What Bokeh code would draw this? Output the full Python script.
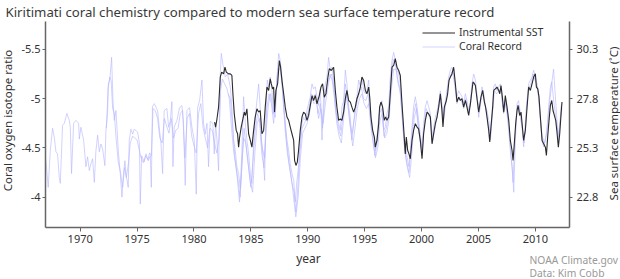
import math
from bokeh.plotting import figure
from bokeh.models import Range1d, LinearAxis, FixedTicker, Label, Legend, LegendItem, ColumnDataSource
from bokeh.embed import file_html
from bokeh.resources import INLINE

# ---------------- data ----------------
title_text = "Kiritimati coral chemistry compared to modern sea surface temperature record"
left_title = "Coral oxygen isotope ratio"
right_title = "Sea surface temperature (\u02daC)"
x_title = "year"
credit_1 = "NOAA Climate.gov"
credit_2 = "Data: Kim Cobb"
legend_labels = ["Instrumental SST", "Coral Record"]

x_ticks = [1970, 1975, 1980, 1985, 1990, 1995, 2000, 2005, 2010]
d18o_ticks = [-5.5, -5.0, -4.5, -4.0]
d18o_tick_labels = ["-5.5", "-5", "-4.5", "-4"]
sst_ticks = [22.8, 25.3, 27.8, 30.3]

# axis extents (data units)
year_min, year_max = 1966.95, 2013.0
d18o_bottom, d18o_top = -3.692, -5.784
sst_bottom, sst_top = 21.26, 31.72

coral_a_year = [
    1966.96, 1966.99, 1967.19, 1967.37, 1967.57, 1967.72, 1967.87, 1968.01, 1968.16, 1968.25,
    1968.45, 1968.60, 1968.83, 1969.04, 1969.13, 1969.24, 1969.42, 1969.62, 1969.86, 1969.92,
    1970.06, 1970.30, 1970.50, 1970.65, 1970.80, 1970.94, 1971.09, 1971.24, 1971.38, 1971.53,
    1971.68, 1971.82, 1971.97, 1972.17, 1972.26, 1972.41, 1972.47, 1972.61, 1972.76, 1972.88,
    1973.00, 1973.14, 1973.23, 1973.35, 1973.52, 1973.67, 1973.81, 1973.93, 1974.02, 1974.22,
    1974.31, 1974.46, 1974.61, 1974.75, 1975.05, 1975.20, 1975.28, 1975.40, 1975.63, 1975.78,
    1975.98, 1976.16, 1976.25, 1976.35, 1976.51, 1976.68, 1976.80, 1976.97, 1977.10, 1977.24,
    1977.38, 1977.62, 1977.77, 1977.92, 1978.06, 1978.15, 1978.26, 1978.50, 1978.73, 1978.94,
    1979.08, 1979.23, 1979.38, 1979.61, 1979.82, 1980.02, 1980.20, 1980.32, 1980.49, 1980.70,
    1980.84, 1980.99, 1981.14, 1981.28, 1981.43, 1981.66, 1981.78, 1981.90, 1982.02, 1982.16,
    1982.31, 1982.40, 1982.54, 1982.75, 1982.95, 1983.19, 1983.33, 1983.48, 1983.63, 1983.77,
    1983.92, 1984.07, 1984.21, 1984.36, 1984.51, 1984.65, 1984.80, 1984.95, 1985.09, 1985.24,
    1985.38, 1985.53, 1985.68, 1985.82, 1985.91, 1986.03, 1986.21, 1986.32, 1986.44, 1986.56,
    1986.70, 1986.85, 1987.00, 1987.14, 1987.29, 1987.44, 1987.58, 1987.73, 1987.88, 1988.02,
    1988.17, 1988.32, 1988.46, 1988.61, 1988.76, 1988.90, 1989.05, 1989.19, 1989.34, 1989.49,
    1989.63, 1989.78, 1989.93, 1990.07, 1990.22, 1990.37, 1990.51, 1990.66, 1990.81, 1990.95,
    1991.10, 1991.25, 1991.39, 1991.54, 1991.69, 1991.83, 1991.98, 1992.12, 1992.27, 1992.42,
    1992.56, 1992.71, 1992.86, 1993.00, 1993.15, 1993.30, 1993.44, 1993.59, 1993.74, 1993.88,
    1994.03, 1994.18, 1994.32, 1994.47, 1994.62, 1994.76, 1994.91, 1995.06, 1995.20, 1995.35,
    1995.49, 1995.64, 1995.79, 1995.93, 1996.08, 1996.23, 1996.37, 1996.52, 1996.67, 1996.81,
    1996.96, 1997.11, 1997.25, 1997.40, 1997.55, 1997.69, 1997.84, 1997.99, 1998.13, 1998.28,
    1998.42, 1998.57, 1998.72, 1998.89, 1999.01, 1999.16, 1999.30, 1999.45, 1999.60, 1999.74,
    1999.89, 2000.04, 2000.18, 2000.33, 2000.48, 2000.62, 2000.77, 2000.92, 2001.06, 2001.21,
    2001.36, 2001.50, 2001.65, 2001.79, 2001.94, 2002.09, 2002.23, 2002.38, 2002.53, 2002.67,
    2002.82, 2002.97, 2003.11, 2003.26, 2003.41, 2003.55, 2003.70, 2003.85, 2003.99, 2004.14,
    2004.29, 2004.43, 2004.58, 2004.73, 2004.87, 2005.02, 2005.17, 2005.31, 2005.46, 2005.60,
    2005.75, 2005.90, 2006.04, 2006.19, 2006.34, 2006.48, 2006.63, 2006.78, 2006.92, 2007.07,
    2007.22, 2007.36, 2007.51, 2007.66, 2007.80, 2007.95, 2008.04, 2008.15, 2008.27, 2008.39,
    2008.53, 2008.68, 2008.83, 2008.97, 2009.12, 2009.27, 2009.41, 2009.56, 2009.71, 2009.85,
    2010.00, 2010.15, 2010.29, 2010.44, 2010.59, 2010.73, 2010.88, 2011.03, 2011.17, 2011.32,
    2011.44, 2011.55, 2011.67, 2011.79, 2011.90, 2012.02, 2012.14, 2012.26, 2012.34,
]
coral_a_d18o = [
    -4.39, -4.36, -4.10, -4.47, -4.70, -4.61, -4.46, -4.44, -4.20, -4.14,
    -4.73, -4.75, -4.85, -4.78, -4.71, -4.24, -4.75, -4.78, -4.75, -4.59,
    -4.71, -4.58, -4.31, -4.41, -4.27, -4.34, -4.39, -4.15, -4.47, -4.63,
    -4.46, -4.54, -4.49, -4.32, -4.68, -4.86, -5.15, -5.20, -5.42, -4.98,
    -4.78, -4.88, -4.71, -4.47, -4.24, -4.00, -4.24, -4.37, -4.24, -4.10,
    -4.58, -4.69, -4.64, -4.69, -4.66, -4.55, -3.93, -4.42, -4.36, -4.44,
    -4.37, -4.42, -4.10, -4.92, -4.95, -4.91, -4.88, -4.68, -4.55, -4.24,
    -4.88, -4.90, -4.71, -4.78, -4.97, -4.31, -4.71, -4.78, -4.91, -4.93,
    -4.75, -4.12, -4.88, -4.91, -4.71, -4.58, -4.03, -4.91, -4.98, -5.19,
    -4.75, -4.64, -4.75, -4.31, -4.77, -4.75, -4.44, -4.75, -4.58, -4.27,
    -5.25, -5.46, -5.35, -5.22, -5.25, -5.12, -4.91, -4.58, -4.47, -4.31,
    -4.24, -4.09, -4.47, -5.02, -4.75, -4.58, -4.44, -4.24, -4.14, -4.54,
    -4.81, -4.98, -5.15, -4.91, -4.58, -4.47, -4.17, -4.85, -5.19, -5.12,
    -5.22, -5.08, -4.85, -4.81, -5.19, -5.46, -5.39, -5.22, -4.92, -4.75,
    -4.58, -4.47, -4.34, -4.24, -4.17, -3.95, -4.17, -4.31, -4.58, -4.75,
    -4.81, -4.78, -4.88, -4.95, -5.02, -5.15, -5.10, -5.12, -5.02, -4.93,
    -5.10, -4.58, -5.02, -5.15, -5.22, -5.42, -5.29, -5.32, -5.19, -4.92,
    -4.81, -4.75, -4.68, -4.92, -4.98, -5.29, -5.15, -4.92, -4.81, -4.58,
    -4.75, -4.92, -5.02, -5.19, -5.12, -5.22, -5.08, -5.05, -5.08, -5.19,
    -4.92, -4.75, -4.61, -4.47, -4.61, -4.81, -4.92, -4.98, -4.68, -4.71,
    -4.85, -4.92, -5.22, -5.39, -5.47, -5.39, -5.29, -5.25, -5.15, -4.92,
    -4.64, -4.54, -4.41, -4.31, -4.47, -4.71, -4.92, -5.02, -4.92, -4.78,
    -4.64, -4.51, -4.75, -4.92, -4.98, -4.92, -4.85, -4.61, -4.71, -4.81,
    -4.88, -4.95, -5.08, -4.95, -4.81, -4.98, -5.08, -5.22, -5.29, -5.32,
    -5.25, -5.12, -5.02, -5.08, -5.05, -5.02, -4.95, -5.05, -4.98, -4.88,
    -4.98, -5.15, -5.25, -5.19, -5.05, -4.81, -4.95, -5.12, -5.05, -4.92,
    -4.88, -4.78, -4.64, -4.85, -5.12, -5.15, -5.08, -5.12, -5.15, -4.98,
    -4.88, -4.98, -4.88, -4.71, -4.47, -4.31, -4.15, -4.47, -4.71, -4.95,
    -4.98, -4.81, -4.71, -4.51, -4.68, -4.98, -5.15, -5.19, -5.22, -5.29,
    -5.22, -5.15, -5.05, -4.78, -4.58, -4.51, -4.58, -4.71, -4.92, -5.12,
    -5.17, -5.05, -4.92, -4.81, -4.71, -4.58, -4.71, -4.92, -4.95,
]

coral_b_year = [
    1972.30, 1972.45, 1972.60, 1972.72, 1972.85, 1973.00, 1973.15, 1973.35, 1973.55, 1973.72,
    1973.90, 1974.05, 1974.25, 1974.40, 1974.60, 1974.80, 1975.00, 1975.15, 1975.35, 1975.55,
    1975.75, 1975.95, 1976.10, 1976.25, 1976.40, 1976.60, 1976.80, 1977.00, 1977.20, 1977.40,
    1977.60, 1977.80, 1978.00, 1978.20, 1978.40, 1978.60, 1978.80, 1979.00, 1979.20, 1979.40,
    1979.60, 1979.80, 1980.00, 1980.20, 1980.40, 1980.60, 1980.80, 1981.00, 1981.20, 1981.40,
    1981.60, 1981.80, 1982.00, 1982.20, 1982.35, 1982.50, 1982.70, 1982.90, 1983.10, 1983.30,
    1983.50, 1983.70, 1983.90, 1984.05, 1984.20, 1984.40, 1984.60, 1984.80, 1985.00, 1985.20,
    1985.40, 1985.60, 1985.80, 1986.00, 1986.20, 1986.40, 1986.60, 1986.80, 1987.00, 1987.20,
    1987.40, 1987.60, 1987.80, 1988.00, 1988.20, 1988.40, 1988.60, 1988.80, 1988.95, 1989.10,
    1989.30, 1989.50, 1989.70, 1989.90, 1990.10, 1990.30, 1990.50, 1990.70, 1990.90, 1991.10,
    1991.30, 1991.50, 1991.70, 1991.90, 1992.10, 1992.30, 1992.50, 1992.70, 1992.90, 1993.10,
    1993.30, 1993.50, 1993.70, 1993.90, 1994.10, 1994.30, 1994.50, 1994.70, 1994.90, 1995.10,
    1995.30, 1995.50, 1995.70, 1995.90, 1996.10, 1996.30, 1996.50, 1996.70, 1996.90, 1997.10,
    1997.30, 1997.50, 1997.70, 1997.90, 1998.10, 1998.30, 1998.50, 1998.70, 1998.90, 1999.10,
    1999.30, 1999.50, 1999.70, 1999.90, 2000.05, 2000.20, 2000.40, 2000.60, 2000.80, 2000.95,
    2001.10, 2001.30, 2001.50, 2001.70, 2001.90, 2002.10, 2002.30, 2002.50, 2002.70, 2002.90,
    2003.10, 2003.30, 2003.50, 2003.70, 2003.90, 2004.10, 2004.30, 2004.50, 2004.70, 2004.90,
    2005.10, 2005.30, 2005.50, 2005.70, 2005.90, 2006.05, 2006.20, 2006.40, 2006.60, 2006.80,
    2007.00, 2007.20, 2007.40, 2007.60, 2007.80, 2008.00, 2008.10, 2008.25, 2008.40, 2008.60,
    2008.80, 2009.00, 2009.20, 2009.40, 2009.60, 2009.80, 2010.00, 2010.20, 2010.40, 2010.60,
    2010.80, 2011.00, 2011.20, 2011.40, 2011.60, 2011.80, 2012.00, 2012.20, 2012.34,
]
coral_b_d18o = [
    -4.70, -5.10, -5.22, -5.18, -4.90, -4.85, -4.60, -4.35, -4.25, -4.10,
    -4.30, -4.20, -4.35, -4.55, -4.62, -4.60, -4.58, -4.50, -4.40, -4.35,
    -4.42, -4.38, -4.45, -4.42, -4.90, -4.88, -4.80, -4.60, -4.55, -4.80,
    -4.72, -4.65, -4.80, -4.60, -4.68, -4.70, -4.85, -4.88, -4.40, -4.80,
    -4.85, -4.62, -4.52, -4.45, -4.85, -4.95, -4.70, -4.60, -4.50, -4.70,
    -4.68, -4.55, -4.45, -4.60, -5.10, -5.20, -5.15, -5.10, -5.00, -4.70,
    -4.45, -4.30, -4.15, -4.00, -4.30, -4.70, -4.50, -4.30, -4.10, -4.40,
    -4.70, -4.85, -4.75, -4.50, -4.40, -4.90, -5.05, -4.95, -4.75, -5.05,
    -5.30, -5.30, -5.05, -4.70, -4.45, -4.30, -4.15, -4.05, -3.85, -4.05,
    -4.45, -4.70, -4.75, -4.80, -4.90, -5.05, -5.02, -5.05, -4.85, -4.95,
    -4.70, -5.05, -5.15, -5.20, -5.25, -5.10, -4.85, -4.70, -4.62, -4.85,
    -5.15, -5.00, -4.75, -4.65, -4.80, -4.95, -5.05, -5.12, -5.00, -4.98,
    -5.05, -4.80, -4.60, -4.42, -4.55, -4.85, -4.90, -4.62, -4.70, -4.85,
    -5.15, -5.40, -5.35, -5.20, -5.10, -4.80, -4.50, -4.35, -4.25, -4.55,
    -4.85, -4.95, -4.72, -4.55, -4.45, -4.68, -4.90, -4.85, -4.78, -4.55,
    -4.65, -4.78, -4.90, -5.00, -4.75, -4.92, -5.12, -5.22, -5.28, -5.15,
    -4.95, -5.02, -4.98, -4.90, -5.00, -4.85, -4.95, -5.18, -5.15, -5.00,
    -4.88, -5.05, -5.00, -4.85, -4.70, -4.58, -4.80, -5.08, -5.05, -5.08,
    -5.10, -4.85, -4.95, -4.75, -4.50, -4.25, -4.05, -4.60, -4.90, -4.92,
    -4.75, -4.55, -4.90, -5.10, -5.15, -5.25, -5.18, -5.10, -4.85, -4.62,
    -4.55, -4.65, -4.90, -5.12, -5.30, -4.95, -4.62, -4.80, -4.90,
]

coral_c_year = [
    1983.00, 1983.20, 1983.40, 1983.60, 1983.80, 1984.00, 1984.15, 1984.35, 1984.55, 1984.75,
    1984.95, 1985.15, 1985.35, 1985.55, 1985.75, 1985.95, 1986.15, 1986.35, 1986.55, 1986.75,
    1986.95, 1987.15, 1987.35, 1987.55, 1987.75, 1987.95, 1988.15, 1988.35, 1988.55, 1988.75,
    1988.95, 1989.15, 1989.35, 1989.55, 1989.75, 1989.95, 1990.15, 1990.35, 1990.55, 1990.75,
    1990.95, 1991.15, 1991.35, 1991.55, 1991.75, 1991.95, 1992.15, 1992.35, 1992.55, 1992.75,
    1992.95, 1993.15, 1993.35, 1993.55, 1993.75, 1993.95, 1994.15, 1994.35, 1994.55, 1994.75,
    1994.95, 1995.15, 1995.35, 1995.55, 1995.75, 1995.95, 1996.15, 1996.35, 1996.55, 1996.75,
    1996.95, 1997.15, 1997.35, 1997.55, 1997.75, 1997.95, 1998.15, 1998.35, 1998.55, 1998.75,
    1998.95, 1999.15, 1999.35, 1999.55, 1999.75, 1999.95,
]
coral_c_d18o = [
    -5.05, -5.00, -4.70, -4.40, -4.20, -3.95, -4.20, -4.60, -4.55, -4.35,
    -4.15, -4.05, -4.45, -4.75, -4.80, -4.45, -4.30, -4.70, -4.95, -5.05,
    -4.85, -4.95, -5.30, -5.35, -5.15, -4.85, -4.55, -4.35, -4.20, -4.00,
    -3.80, -4.00, -4.40, -4.65, -4.70, -4.75, -4.85, -5.00, -4.95, -4.98,
    -4.80, -4.90, -4.75, -4.95, -5.10, -5.25, -5.18, -5.00, -4.75, -4.62,
    -4.55, -4.80, -5.05, -4.90, -4.70, -4.52, -4.70, -4.90, -5.00, -5.05,
    -4.95, -4.90, -4.95, -4.72, -4.55, -4.40, -4.50, -4.78, -4.85, -4.60,
    -4.65, -4.80, -5.10, -5.30, -5.30, -5.15, -5.05, -4.75, -4.45, -4.30,
    -4.20, -4.45, -4.80, -4.90, -4.70, -4.50,
]

sst_year = [
    1981.81, 1981.90, 1982.02, 1982.16, 1982.31, 1982.43, 1982.60, 1982.72, 1982.84, 1983.04,
    1983.19, 1983.33, 1983.42, 1983.54, 1983.71, 1983.83, 1983.92, 1984.01, 1984.15, 1984.30,
    1984.42, 1984.53, 1984.65, 1984.80, 1984.95, 1985.09, 1985.24, 1985.38, 1985.53, 1985.68,
    1985.82, 1985.97, 1986.12, 1986.26, 1986.41, 1986.56, 1986.70, 1986.79, 1986.91, 1987.00,
    1987.08, 1987.20, 1987.35, 1987.50, 1987.61, 1987.73, 1987.88, 1988.02, 1988.17, 1988.32,
    1988.46, 1988.61, 1988.76, 1988.84, 1988.96, 1989.08, 1989.19, 1989.34, 1989.49, 1989.63,
    1989.78, 1989.93, 1990.07, 1990.22, 1990.37, 1990.51, 1990.66, 1990.81, 1990.89, 1991.01,
    1991.16, 1991.30, 1991.45, 1991.60, 1991.77, 1991.89, 1992.07, 1992.27, 1992.42, 1992.56,
    1992.71, 1992.86, 1993.00, 1993.15, 1993.30, 1993.44, 1993.59, 1993.74, 1993.88, 1994.03,
    1994.18, 1994.32, 1994.47, 1994.62, 1994.76, 1994.91, 1995.06, 1995.20, 1995.35, 1995.44,
    1995.55, 1995.70, 1995.85, 1995.93, 1996.08, 1996.23, 1996.31, 1996.43, 1996.58, 1996.72,
    1996.84, 1996.96, 1997.11, 1997.25, 1997.40, 1997.55, 1997.69, 1997.84, 1997.99, 1998.13,
    1998.28, 1998.42, 1998.57, 1998.66, 1998.78, 1998.89, 1999.01, 1999.16, 1999.30, 1999.45,
    1999.60, 1999.74, 1999.89, 2000.04, 2000.18, 2000.33, 2000.48, 2000.62, 2000.77, 2000.92,
    2001.06, 2001.21, 2001.36, 2001.50, 2001.65, 2001.79, 2001.88, 2002.00, 2002.18, 2002.29,
    2002.41, 2002.53, 2002.67, 2002.82, 2002.97, 2003.11, 2003.26, 2003.41, 2003.55, 2003.70,
    2003.85, 2003.99, 2004.14, 2004.29, 2004.43, 2004.52, 2004.64, 2004.73, 2004.87, 2005.02,
    2005.11, 2005.22, 2005.37, 2005.52, 2005.63, 2005.75, 2005.90, 2005.99, 2006.10, 2006.25,
    2006.34, 2006.48, 2006.63, 2006.78, 2006.87, 2006.98, 2007.10, 2007.22, 2007.36, 2007.51,
    2007.66, 2007.80, 2007.95, 2008.04, 2008.15, 2008.27, 2008.39, 2008.48, 2008.62, 2008.74,
    2008.86, 2008.97, 2009.12, 2009.27, 2009.41, 2009.56, 2009.71, 2009.85, 2010.00, 2010.09,
    2010.21, 2010.32, 2010.44, 2010.59, 2010.73, 2010.88, 2010.97, 2011.08, 2011.20, 2011.32,
    2011.44, 2011.55, 2011.67, 2011.79, 2011.90, 2012.02, 2012.14, 2012.26, 2012.34,
]
sst_degc = [
    26.61, 26.36, 26.78, 27.37, 28.90, 29.15, 29.06, 29.40, 29.15, 29.06,
    29.06, 28.98, 28.05, 27.03, 26.19, 26.02, 25.34, 25.85, 26.36, 26.78,
    27.12, 26.95, 27.29, 26.02, 25.68, 25.34, 26.19, 26.87, 27.29, 27.12,
    27.20, 26.02, 26.19, 27.37, 28.39, 28.22, 28.81, 28.56, 28.30, 28.39,
    27.12, 28.22, 28.56, 29.74, 29.40, 28.73, 28.05, 27.37, 26.87, 26.70,
    26.36, 26.02, 25.68, 24.67, 24.41, 24.58, 25.17, 26.19, 26.87, 27.12,
    27.03, 26.70, 26.95, 27.46, 27.96, 27.71, 27.96, 27.54, 27.71, 27.96,
    28.39, 28.56, 27.88, 28.05, 28.90, 29.32, 29.23, 29.40, 28.22, 27.37,
    26.70, 26.78, 26.70, 27.12, 27.80, 28.22, 27.71, 27.63, 27.37, 27.12,
    27.37, 27.80, 28.05, 28.39, 28.90, 28.73, 28.22, 28.05, 28.39, 27.88,
    26.87, 26.19, 25.85, 25.34, 25.68, 26.53, 27.37, 27.63, 27.37, 26.70,
    26.87, 26.70, 26.87, 28.05, 29.40, 29.49, 29.83, 29.40, 29.23, 28.98,
    27.54, 26.36, 25.00, 25.85, 25.17, 25.00, 24.75, 25.68, 26.19, 26.53,
    26.36, 26.27, 25.68, 24.75, 26.02, 26.70, 27.12, 27.03, 26.87, 25.51,
    26.02, 26.53, 26.87, 27.37, 28.05, 27.20, 26.36, 27.37, 27.71, 28.05,
    28.73, 28.90, 29.06, 29.40, 28.56, 27.63, 27.88, 27.71, 27.80, 27.37,
    27.71, 27.37, 26.95, 27.54, 28.22, 28.64, 28.56, 28.47, 27.80, 27.12,
    27.46, 27.88, 28.22, 27.63, 27.37, 26.87, 26.19, 25.60, 26.36, 27.37,
    28.22, 28.30, 28.39, 28.22, 28.05, 28.47, 27.88, 27.12, 27.96, 27.37,
    26.70, 25.68, 25.17, 24.67, 25.51, 26.53, 27.20, 27.46, 26.95, 27.12,
    26.36, 25.68, 26.19, 27.37, 28.39, 28.22, 28.56, 28.90, 29.06, 28.39,
    28.30, 27.88, 26.87, 25.68, 25.51, 25.34, 24.92, 25.85, 26.70, 27.46,
    27.71, 27.20, 26.95, 26.70, 26.10, 25.34, 26.02, 27.03, 27.63,
]

# ---------------- layout (pixels) ----------------
W, H = 620, 279
PL, PR, PT, PB = 45, 569, 21, 227          # plot-area edges on the canvas

FONT = "Noto Sans"
TXT = "#333333"
CORAL = "#b4b4ff"
SST = "#2b2b2b"

# the frame covers the whole canvas; ranges are widened so the data area sits at PL..PR, PT..PB
xs = (PR - PL) / (year_max - year_min)
ys = (PB - PT) / (d18o_bottom - d18o_top)
ts = (PB - PT) / (sst_top - sst_bottom)
x_range = Range1d(year_min - PL / xs, year_max + (W - PR) / xs)
y_range = Range1d(d18o_bottom + (H - PB) / ys, d18o_top - PT / ys)
sst_range = Range1d(sst_bottom - (H - PB) / ts, sst_top + PT / ts)

p = figure(width=W, height=H, output_backend="svg", toolbar_location=None,
           x_range=x_range, y_range=y_range, x_axis_location=None, y_axis_location=None,
           min_border=0, min_border_left=0, min_border_right=0, min_border_top=0, min_border_bottom=0,
           background_fill_color="white", border_fill_color="white")
p.outline_line_color = None
p.grid.visible = False
p.title.visible = False
p.extra_y_ranges = {"sst": sst_range}

src_a = ColumnDataSource(dict(x=coral_a_year, y=coral_a_d18o))
src_b = ColumnDataSource(dict(x=coral_b_year, y=coral_b_d18o))
src_c = ColumnDataSource(dict(x=coral_c_year, y=coral_c_d18o))
src_s = ColumnDataSource(dict(x=sst_year, y=sst_degc))

r_a = p.line("x", "y", source=src_a, line_color=CORAL, line_alpha=0.6, line_width=1)
r_b = p.line("x", "y", source=src_b, line_color=CORAL, line_alpha=0.6, line_width=1)
r_c = p.line("x", "y", source=src_c, line_color=CORAL, line_alpha=0.6, line_width=1)
r_s = p.line("x", "y", source=src_s, y_range_name="sst", line_color=SST, line_width=1.1)


def style_axis(ax):
    ax.axis_line_color = "#666666"
    ax.axis_line_width = 1.5
    ax.major_tick_line_color = "#666666"
    ax.major_tick_in = 0
    ax.major_tick_out = 3
    ax.minor_tick_line_color = None
    ax.major_label_text_font = FONT
    ax.major_label_text_font_size = "11px"
    ax.major_label_text_color = TXT


xa = LinearAxis(ticker=FixedTicker(ticks=x_ticks), fixed_location=d18o_bottom,
                bounds=(year_min, year_max))
style_axis(xa)
xa.major_tick_out = 4
xa.major_label_standoff = 3
p.add_layout(xa, "below")

ya = LinearAxis(ticker=FixedTicker(ticks=d18o_ticks), fixed_location=year_min,
                bounds=(d18o_top, d18o_bottom))
style_axis(ya)
ya.major_label_overrides = {t: l for t, l in zip(d18o_ticks, d18o_tick_labels)}
ya.major_label_standoff = 2
p.add_layout(ya, "left")

ra = LinearAxis(y_range_name="sst", ticker=FixedTicker(ticks=sst_ticks), fixed_location=year_max,
                bounds=(sst_bottom, sst_top))
style_axis(ra)
ra.major_label_standoff = 4
p.add_layout(ra, "right")


def add_text(text, x, y, size, color=TXT, angle=0.0, align="left"):
    # x, y in canvas pixels measured from the top-left corner
    p.add_layout(Label(x=x, y=H - y, x_units="screen", y_units="screen", text=text,
                       angle=angle, text_align=align, text_baseline="middle",
                       text_font=FONT, text_font_size=size, text_color=color))


add_text(title_text, 5, 11, "13.2px", color="#3a3a3a")
add_text(left_title, 7, 120, "11.5px", angle=math.pi / 2, align="center")
add_text(right_title, 613, 123, "11.5px", angle=math.pi / 2, align="center")
add_text(x_title, 308, 258, "12px", align="center")
add_text(credit_1, 529, 259, "10.3px", color="#999999")
add_text(credit_2, 529, 272, "10.3px", color="#999999")

legend = Legend(items=[LegendItem(label=legend_labels[0], renderers=[r_s]),
                       LegendItem(label=legend_labels[1], renderers=[r_a])],
                location=(422, 226), orientation="vertical")
legend.border_line_alpha = 0
legend.background_fill_alpha = 0
legend.glyph_width = 33
legend.glyph_height = 11
legend.label_height = 11
legend.spacing = -3
legend.padding = 0
legend.margin = 0
legend.label_standoff = 4
legend.label_text_font = FONT
legend.label_text_font_size = "10.5px"
legend.label_text_color = TXT
p.add_layout(legend)

open("out.html", "w").write(file_html(p, INLINE))
